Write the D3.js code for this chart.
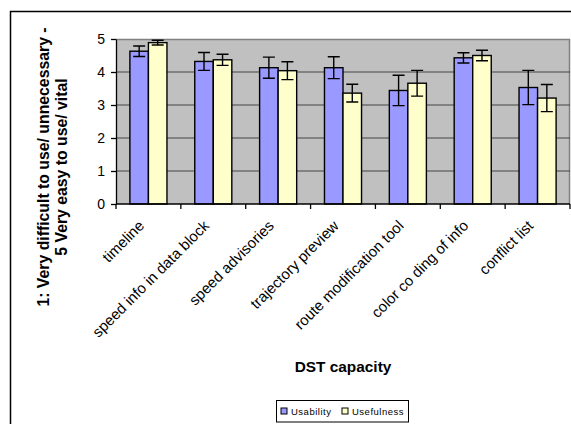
<!DOCTYPE html>
<head>
<meta charset="utf-8">
<script src="https://d3js.org/d3.v7.min.js"></script>
<style>
body { margin:0; background:#fff; }
text { font-family: Arial, "Liberation Sans", sans-serif; }
</style>
</head>
<body>
<script>

var categories = ["timeline", "speed info in data block", "speed advisories", "trajectory  preview",
                  "route modification tool", "color co ding of info", "conflict list"];
var seriesNames = ["Usability", "Usefulness"];
var usability = [4.63, 4.32, 4.13, 4.13, 3.44, 4.43, 3.53];
var usabilityErr = [0.16, 0.27, 0.32, 0.33, 0.46, 0.155, 0.52];
var usefulness = [4.89, 4.37, 4.04, 3.36, 3.66, 4.50, 3.21];
var usefulnessErr = [0.07, 0.17, 0.27, 0.27, 0.39, 0.16, 0.41];
var yTicks = [0, 1, 2, 3, 4, 5];

var width = 571,
  height = 424,
  plotLeft = 116, plotRight = 570, plotTop = 39, plotBottom = 204;

var colors = ["#9999ff", "#ffffcc"];

var svg = d3.select("body").append("svg")
    .attr("width", width)
    .attr("height", height);

// outer chart frame (only top and left visible)
svg.append("path")
    .attr("d", "M10.5,440V11.5H575")
    .style("fill", "none")
    .style("stroke", "#000")
    .style("stroke-width", 1.5);

var x0 = d3.scaleBand()
    .domain(categories)
    .range([plotLeft, plotRight])
    .paddingInner(1.5 / 3.5)
    .paddingOuter(0.75 / 3.5);

var x1 = d3.scaleBand()
    .domain(seriesNames)
    .range([0, x0.bandwidth()]);

var y = d3.scaleLinear()
    .domain([0, 5])
    .range([plotBottom, plotTop]);

// plot area
svg.append("rect")
    .attr("x", plotLeft).attr("y", plotTop)
    .attr("width", plotRight - plotLeft).attr("height", plotBottom - plotTop)
    .style("fill", "#c0c0c0");

svg.append("path")
    .attr("d", "M" + plotLeft + "," + (plotTop + 0.5) + "H" + (plotRight - 0.5) + "V" + plotBottom)
    .style("fill", "none")
    .style("stroke", "#808080")
    .style("stroke-width", 1.5);

// gridlines
svg.append("g")
  .selectAll("line")
  .data(yTicks.slice(1, -1))
  .enter().append("line")
    .attr("x1", plotLeft).attr("x2", plotRight)
    .attr("y1", function(d) { return y(d); })
    .attr("y2", function(d) { return y(d); })
    .style("stroke", "#444")
    .style("stroke-width", 1.2);

var data = seriesNames.map(function(s, si) {
  var vals = si == 0 ? usability : usefulness;
  var errs = si == 0 ? usabilityErr : usefulnessErr;
  return categories.map(function(c, i) {
    return { cat: c, series: s, si: si, value: vals[i], err: errs[i] };
  });
});
var flat = data[0].concat(data[1]);

svg.append("g")
  .selectAll("rect")
  .data(flat)
  .enter().append("rect")
    .attr("x", function(d) { return x0(d.cat) + x1(d.series); })
    .attr("y", function(d) { return y(d.value); })
    .attr("width", x1.bandwidth())
    .attr("height", function(d) { return plotBottom - y(d.value); })
    .style("fill", function(d) { return colors[d.si]; })
    .style("stroke", "#000")
    .style("stroke-width", 1.4);

// error bars
svg.append("g")
  .selectAll("path")
  .data(flat)
  .enter().append("path")
    .attr("d", function(d) {
      var cx = x0(d.cat) + x1(d.series) + x1.bandwidth() / 2;
      var y1 = y(d.value + d.err), y2 = y(d.value - d.err);
      return "M" + cx + "," + y1 + "V" + y2 +
             "M" + (cx - 6) + "," + y1 + "H" + (cx + 6) +
             "M" + (cx - 6) + "," + y2 + "H" + (cx + 6);
    })
    .style("fill", "none")
    .style("stroke", "#000")
    .style("stroke-width", 1.4);

// y axis
var yAxis = svg.append("g")
    .attr("transform", "translate(" + plotLeft + ",0)")
    .call(d3.axisLeft(y).tickValues(yTicks).tickFormat(d3.format("d"))
      .tickSize(5).tickPadding(6).tickSizeOuter(0));
yAxis.select(".domain").style("stroke-width", 1.3);
yAxis.selectAll(".tick line").style("stroke-width", 1.3);
yAxis.selectAll("text")
    .style("font-size", "14px")
    .style("font-family", "Arial, 'Liberation Sans', sans-serif")
    .attr("fill", "#000");

// x axis
var bounds = d3.range(categories.length + 1).map(function(i) { return plotLeft + i * x0.step(); });
svg.append("line")
    .attr("x1", plotLeft).attr("x2", plotRight)
    .attr("y1", plotBottom).attr("y2", plotBottom)
    .style("stroke", "#000")
    .style("stroke-width", 1.5);
svg.append("g")
  .selectAll("line")
  .data(bounds)
  .enter().append("line")
    .attr("x1", function(d) { return d; }).attr("x2", function(d) { return d; })
    .attr("y1", plotBottom).attr("y2", plotBottom + 5)
    .style("stroke", "#000")
    .style("stroke-width", 1.3);

svg.append("g")
  .selectAll("text")
  .data(categories)
  .enter().append("text")
    .attr("transform", function(d) {
      var cx = x0(d) + x0.bandwidth() / 2 - 7;
      return "translate(" + cx + "," + (plotBottom + 19) + ") rotate(-45)";
    })
    .attr("text-anchor", "end")
    .attr("dy", "0.35em")
    .style("font-size", "15px")
    .text(function(d) { return d; });

// axis titles
svg.append("text")
    .attr("x", (plotLeft + plotRight) / 2)
    .attr("y", 372)
    .attr("text-anchor", "middle")
    .style("font-size", "15.4px")
    .style("font-weight", "bold")
    .text("DST capacity");

var yt = svg.append("text")
    .attr("transform", "translate(49,167) rotate(-90)")
    .attr("text-anchor", "middle")
    .style("font-size", "15.8px")
    .style("font-weight", "bold");
yt.append("tspan").attr("x", 0).attr("y", 0).text("1: Very difficult to use/ unnecessary -");
yt.append("tspan").attr("x", 0).attr("y", 18).text("5 Very easy to use/ vital");

// legend
var lg = svg.append("g").attr("transform", "translate(276,400)");
lg.append("rect")
    .attr("x", 0.5).attr("y", 0.5)
    .attr("width", 132).attr("height", 21.5)
    .style("fill", "#fff")
    .style("stroke", "#000")
    .style("stroke-width", 1);
var li = lg.selectAll("g.item")
  .data(seriesNames)
  .enter().append("g")
    .attr("class", "item")
    .attr("transform", function(d, i) { return "translate(" + (i == 0 ? 5 : 66) + ",0)"; });
li.append("rect")
    .attr("x", 0).attr("y", 8)
    .attr("width", 6).attr("height", 6)
    .style("fill", function(d, i) { return colors[i]; })
    .style("stroke", "#000")
    .style("stroke-width", 1);
li.append("text")
    .attr("x", 10).attr("y", 14.5)
    .style("font-size", "9.5px")
    .style("letter-spacing", "0.5px")
    .text(function(d) { return d; });

</script>
</body>
